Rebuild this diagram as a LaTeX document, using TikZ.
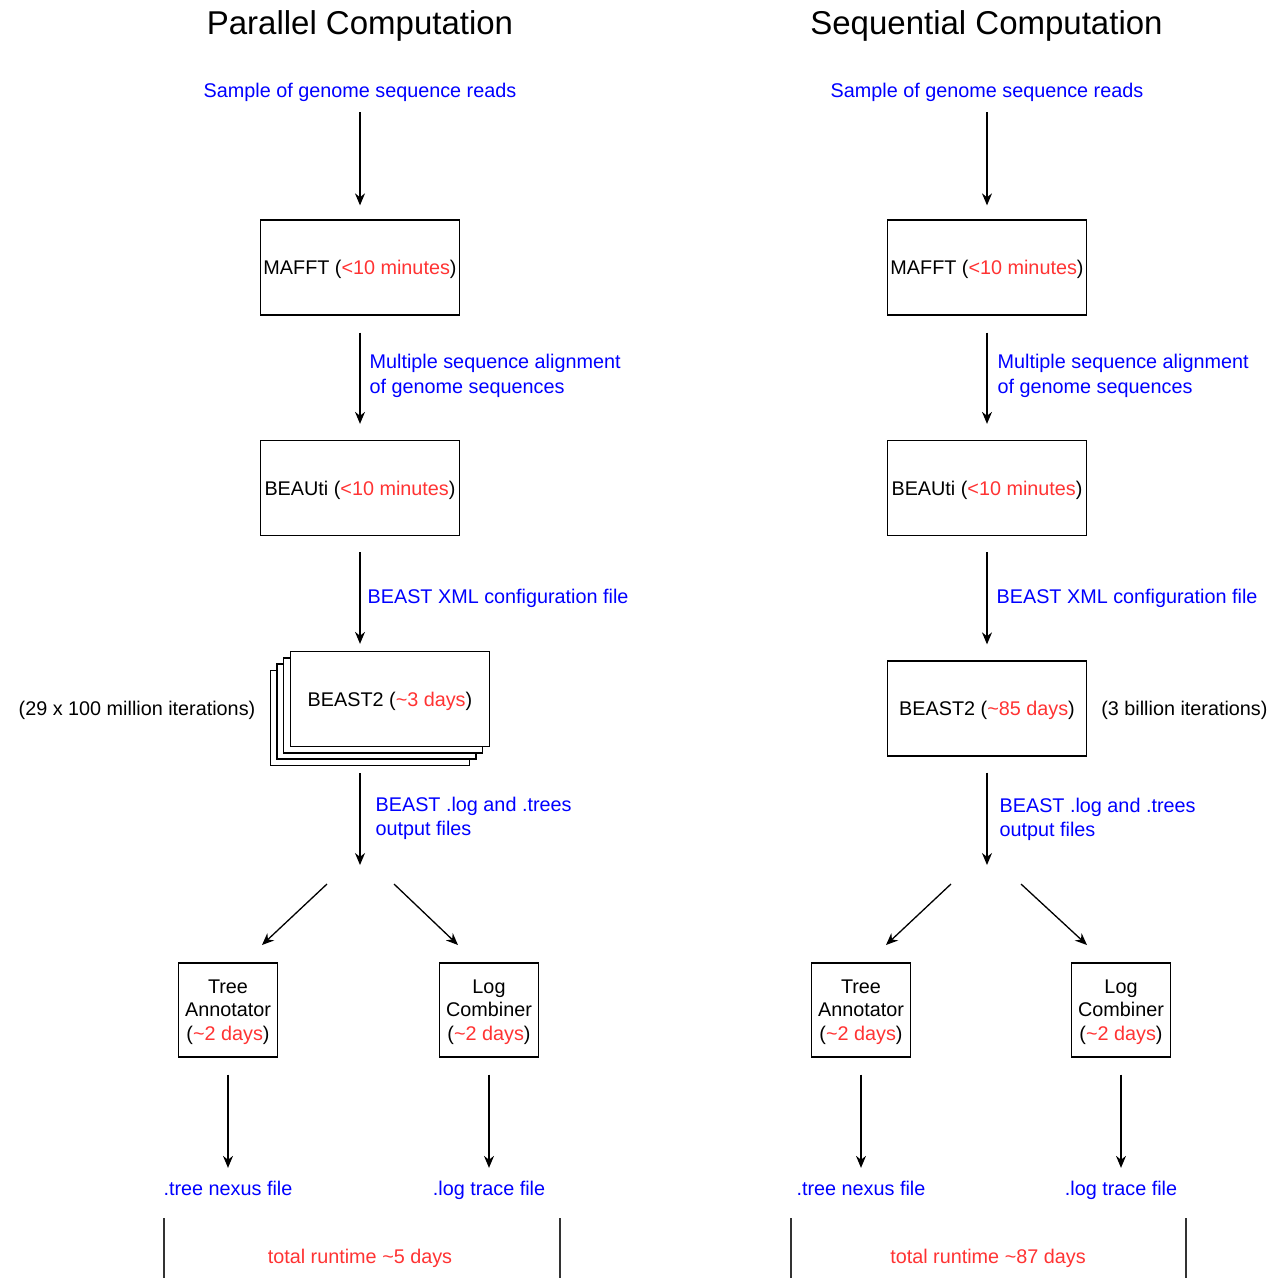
\documentclass[tikz,border=0pt]{standalone}
\usepackage{fontspec}
\setmainfont{Liberation Sans}
\usepackage{xcolor}
\usetikzlibrary{positioning, arrows.meta}

\definecolor{lblblue}{RGB}{0,0,255}
\definecolor{timered}{RGB}{255,51,51}
\newcommand{\tred}[1]{\textcolor{timered}{#1}}

\begin{document}
\begin{tikzpicture}[
    x=1pt, y=-1pt,
    heading/.style={font=\fontsize{33}{38}\selectfont, inner sep=0pt, anchor=base},
    txt/.style={font=\fontsize{19.8}{23.5}\selectfont, inner sep=0pt, text height=14.5pt, text depth=0pt},
    lbl/.style={font=\fontsize{19.8}{24.5}\selectfont, inner sep=0pt, text=lblblue, align=left, yshift=-3pt},
    block/.style={rectangle, draw, fill=white, line width=1.3pt, inner sep=0pt, minimum width=199pt, minimum height=95pt, align=center, font=\fontsize{19.8}{23.5}\selectfont, text height=14.5pt, text depth=0pt},
    smallblock/.style={rectangle, draw, fill=white, line width=1.3pt, inner sep=0pt, minimum width=99pt, minimum height=94pt, align=center, font=\fontsize{19.8}{23.5}\selectfont, text depth=0pt},
    arr/.style={-{Stealth[length=12pt, width=10pt]}, line width=1.3pt},
    edge/.style={line width=1.3pt, black!80},
]
\useasboundingbox (0,0) rectangle (1269,1278);

% --- Parallel computation ---
\node[heading] (ptitle) at (360,34) {Parallel Computation};
\node[txt, text=lblblue] (psample) at (360,90) {Sample of genome sequence reads};
\node[block] (pmafft) at (360,267.5) {MAFFT (\tred{<10 minutes})};
\node[block] (pbeauti) at (360,488) {BEAUti (\tred{<10 minutes})};
\node[block] (pbeast3) at (370,718) {};
\node[block] (pbeast2) at (376.5,711.5) {};
\node[block] (pbeast1) at (383,705.5) {};
\node[block] (pbeast) at (390,699) {BEAST2 (\tred{\textasciitilde3 days})};
\node[txt] (piter) at (137,708) {(29 x 100 million iterations)};
\coordinate (pfork) at (360,865);
\coordinate (pforkl) at (327,884);
\coordinate (ptreetip) at (262,945);
\coordinate (pforkr) at (394,884);
\coordinate (plogtip) at (458,945);
\node[smallblock] (ptree) at (228,1010) {Tree\\Annotator\\(\tred{\textasciitilde2 days})};
\node[smallblock] (plog) at (489,1010) {Log\\Combiner\\(\tred{\textasciitilde2 days})};
\node[txt, text=lblblue] (ptreefile) at (228,1188) {.tree nexus file};
\node[txt, text=lblblue] (plogfile) at (489,1188) {.log trace file};
\node[txt, text=timered] (ptotal) at (360,1256) {total runtime \textasciitilde5 days};

\draw[arr, shorten <=14.7pt, shorten >=14pt] (psample) -- (pmafft);
\draw[arr, shorten <=17pt, shorten >=16pt] (pmafft) -- node[lbl, right=9pt, pos=0.46] {Multiple sequence alignment\\of genome sequences} (pbeauti);
\draw[arr, shorten <=16pt, shorten >=7pt] (pbeauti) -- node[lbl, right=7pt, pos=0.52] {BEAST XML configuration file} (pbeauti |- pbeast.north);
\draw[arr, shorten <=7pt] (pbeauti |- pbeast3.south) -- node[lbl, right=15pt] {BEAST .log and .trees\\output files} (pfork);
\draw[arr] (pforkl) -- (ptreetip);
\draw[arr] (pforkr) -- (plogtip);
\draw[arr, shorten <=17pt, shorten >=12.7pt] (ptree) -- (ptreefile);
\draw[arr, shorten <=17pt, shorten >=12.7pt] (plog) -- (plogfile);
\draw[edge] (164,1218) -- (164,1278);
\draw[edge] (560,1218) -- (560,1278);

% --- Sequential computation ---
\node[heading] (stitle) at (986.5,34) {Sequential Computation};
\node[txt, text=lblblue] (ssample) at (987,90) {Sample of genome sequence reads};
\node[block] (smafft) at (987,267.5) {MAFFT (\tred{<10 minutes})};
\node[block] (sbeauti) at (987,488) {BEAUti (\tred{<10 minutes})};
\node[block] (sbeast) at (987,708.5) {BEAST2 (\tred{\textasciitilde85 days})};
\node[txt, right=14pt of sbeast] (siter) {(3 billion iterations)};
\coordinate (sfork) at (987,865);
\coordinate (sforkl) at (951,884);
\coordinate (streetip) at (886,945);
\coordinate (sforkr) at (1021,884);
\coordinate (slogtip) at (1087,945);
\node[smallblock] (stree) at (861,1010) {Tree\\Annotator\\(\tred{\textasciitilde2 days})};
\node[smallblock] (slog) at (1121,1010) {Log\\Combiner\\(\tred{\textasciitilde2 days})};
\node[txt, text=lblblue] (streefile) at (861,1188) {.tree nexus file};
\node[txt, text=lblblue] (slogfile) at (1121,1188) {.log trace file};
\node[txt, text=timered] (stotal) at (988,1256) {total runtime \textasciitilde87 days};

\draw[arr, shorten <=14.7pt, shorten >=14pt] (ssample) -- (smafft);
\draw[arr, shorten <=17pt, shorten >=16pt] (smafft) -- node[lbl, right=10pt, pos=0.46] {Multiple sequence alignment\\of genome sequences} (sbeauti);
\draw[arr, shorten <=16pt, shorten >=16pt] (sbeauti) -- node[lbl, right=9pt, pos=0.48] {BEAST XML configuration file} (sbeast);
\draw[arr, shorten <=16pt] (sbeast) -- node[lbl, right=12pt, pos=0.55] {BEAST .log and .trees\\output files} (sfork);
\draw[arr] (sforkl) -- (streetip);
\draw[arr] (sforkr) -- (slogtip);
\draw[arr, shorten <=17pt, shorten >=12.7pt] (stree) -- (streefile);
\draw[arr, shorten <=17pt, shorten >=12.7pt] (slog) -- (slogfile);
\draw[edge] (791,1218) -- (791,1278);
\draw[edge] (1186,1218) -- (1186,1278);
\end{tikzpicture}
\end{document}
